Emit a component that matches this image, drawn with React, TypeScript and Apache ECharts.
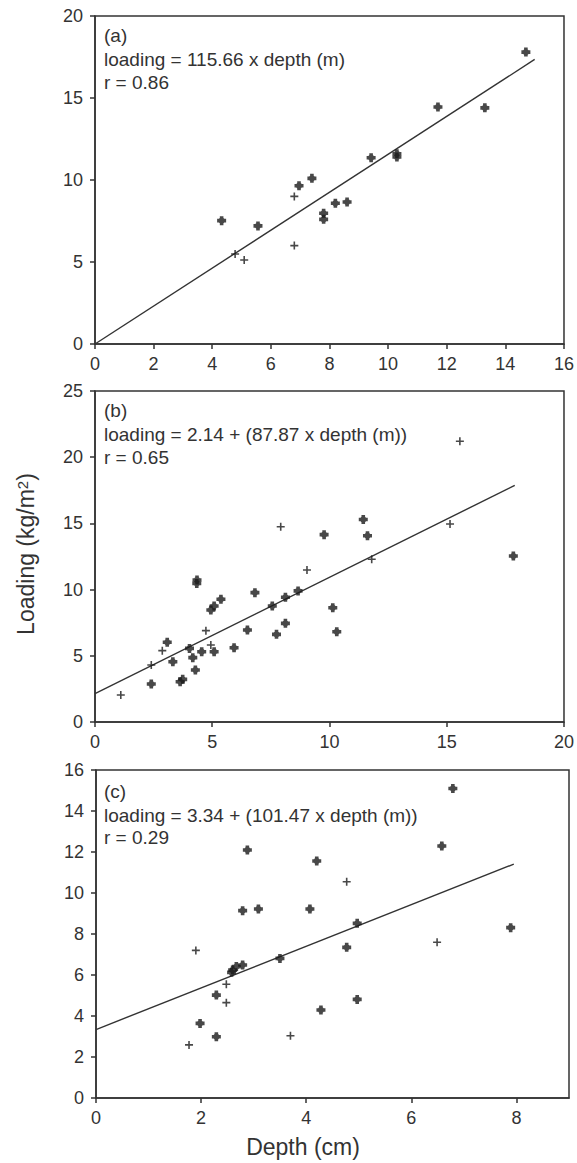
import React, { useEffect, useRef } from "react";
import * as echarts from "echarts";

// ---- texts ----
const panelLabels = ["(a)", "(b)", "(c)"];
const equations = [
  "loading = 115.66 x depth (m)",
  "loading = 2.14 + (87.87 x depth (m))",
  "loading = 3.34 + (101.47 x depth (m))",
];
const rValues = ["r = 0.86", "r = 0.65", "r = 0.29"];
const xTitle = "Depth (cm)";

// ---- panel (a) ----
const aDots = [
  [14.7, 17.8], [11.7, 14.45], [13.3, 14.4], [9.42, 11.36], [10.3, 11.6], [10.3, 11.4],
  [6.96, 9.65], [7.4, 10.1], [4.32, 7.52], [5.56, 7.2], [7.8, 7.97], [7.8, 7.6],
  [8.2, 8.58], [8.6, 8.66],
];
const aCrosses = [[6.8, 9.0], [4.78, 5.49], [5.09, 5.12], [6.8, 6.0]];
const aFit = [[0, 0], [15, 17.35]];

// ---- panel (b) ----
const bDots = [
  [17.84, 12.54], [11.44, 15.3], [11.62, 14.07], [9.77, 14.15], [4.35, 10.72], [4.34, 10.47],
  [8.66, 9.9], [5.37, 9.27], [5.08, 8.76], [4.94, 8.46], [6.82, 9.77], [8.12, 9.42],
  [7.56, 8.76], [10.14, 8.63], [10.31, 6.82], [8.12, 7.45], [7.74, 6.62], [6.5, 6.95],
  [5.93, 5.61], [5.08, 5.31], [4.55, 5.31], [4.03, 5.56], [4.17, 4.86], [4.28, 3.93],
  [3.08, 6.02], [3.32, 4.55], [2.4, 2.87], [3.74, 3.22], [3.63, 3.04],
];
const bCrosses = [
  [15.56, 21.2], [15.14, 14.95], [11.8, 12.29], [7.92, 14.75], [9.04, 11.48], [4.73, 6.9],
  [2.87, 5.39], [2.4, 4.3], [1.1, 2.04], [4.94, 5.82],
];
const bFit = [[0, 2.14], [17.9, 17.87]];

// ---- panel (c) ----
const cDots = [
  [6.79, 15.1], [6.58, 12.29], [2.88, 12.1], [4.2, 11.56], [2.79, 9.14], [3.09, 9.22],
  [4.07, 9.22], [4.97, 8.52], [7.89, 8.31], [4.77, 7.35], [3.5, 6.81], [2.79, 6.49],
  [2.67, 6.41], [2.6, 6.24], [2.58, 6.13], [2.29, 5.02], [4.97, 4.81], [4.28, 4.29],
  [1.98, 3.64], [2.29, 2.99],
];
const cCrosses = [[4.77, 10.55], [6.49, 7.6], [1.9, 7.2], [2.48, 5.55], [2.48, 4.65], [3.7, 3.04], [1.77, 2.59]];
const cFit = [[0, 3.34], [7.95, 11.41]];

// ---- axes extents ----
const xAxesCfg = [
  { min: 0, max: 16, interval: 2 },
  { min: 0, max: 20, interval: 5 },
  { min: 0, max: 9, interval: 2 },
];
const yAxesCfg = [
  { min: 0, max: 20, interval: 5 },
  { min: 0, max: 25, interval: 5 },
  { min: 0, max: 16, interval: 2 },
];

const FONT = "'Liberation Sans', Arial, Helvetica, sans-serif";
const INK = "#333333";
const DOT = "path://M3,0 H7 V2 L8,3 H10 V7 H8 L7,8 V10 H3 V8 L2,7 H0 V3 H2 L3,2 Z";
const CROSS = "path://M4,0 H6 V4 H10 V6 H6 V10 H4 V6 H0 V4 H4 Z";

const grids = [
  { left: 95, top: 16, width: 469, height: 328 },
  { left: 95, top: 391, width: 472, height: 331 },
  { left: 96, top: 770, width: 473, height: 328 },
];

export default function App() {
  const ref = useRef<HTMLDivElement>(null);
  useEffect(() => {
    if (!ref.current) return;
    const chart = echarts.init(ref.current, undefined, { renderer: "svg" });
    const axisLine = { show: true, onZero: false, lineStyle: { color: INK, width: 1.5 } };
    const axisTick = { show: true, inside: false, length: 5, lineStyle: { color: INK, width: 1.5 } };
    const dataSets = [
      [aDots, aCrosses, aFit],
      [bDots, bCrosses, bFit],
      [cDots, cCrosses, cFit],
    ];
    const series: any[] = [];
    dataSets.forEach(([dots, crosses, fit], i) => {
      series.push({
        type: "line", xAxisIndex: i, yAxisIndex: i, data: fit, symbol: "none",
        lineStyle: { color: INK, width: 1.4 }, silent: true, z: 1,
      });
      series.push({
        type: "scatter", xAxisIndex: i, yAxisIndex: i, data: dots, symbol: DOT, symbolSize: 9,
        itemStyle: { color: "#1a1a1a" }, z: 3,
      });
      series.push({
        type: "scatter", xAxisIndex: i, yAxisIndex: i, data: crosses, symbol: CROSS, symbolSize: 8,
        itemStyle: { color: "#1a1a1a" }, z: 3,
      });
    });
    const graphic: any[] = [];
    grids.forEach((g, i) => {
      const offs = i === 2 ? [21, 45, 67] : [19, 43, 66];
      [panelLabels[i], equations[i], rValues[i]].forEach((t, k) => {
        graphic.push({
          type: "text", x: 104, y: g.top + offs[k],
          style: { text: t, fontSize: 19, fontFamily: FONT, fill: INK, verticalAlign: "middle", align: "left" },
        });
      });
    });
    graphic.push({
      type: "text", x: 26, y: 554, rotation: Math.PI / 2,
      style: {
        text: "Loading (kg/m{sup|2})", fontSize: 23, fontFamily: FONT, fill: INK,
        align: "center", verticalAlign: "middle",
        rich: { sup: { fontSize: 15, fontFamily: FONT, fill: INK, verticalAlign: "top" } },
      },
    });
    graphic.push({
      type: "text", x: 303, y: 1147,
      style: { text: xTitle, fontSize: 23, fontFamily: FONT, fill: INK, align: "center", verticalAlign: "middle" },
    });
    chart.setOption({
      animation: false,
      backgroundColor: "#ffffff",
      grid: grids.map((g) => ({ ...g, show: true, borderColor: INK, borderWidth: 1.5, backgroundColor: "transparent" })),
      xAxis: xAxesCfg.map((c, i) => ({
        type: "value", gridIndex: i, ...c, axisLine, axisTick, splitLine: { show: false },
        axisLabel: { color: INK, fontSize: 18, fontFamily: FONT, margin: 11, showMaxLabel: i !== 2 },
      })),
      yAxis: yAxesCfg.map((c, i) => ({
        type: "value", gridIndex: i, ...c, axisLine, axisTick, splitLine: { show: false },
        axisLabel: { color: INK, fontSize: 18, fontFamily: FONT, margin: 12 },
      })),
      series,
      graphic,
    });
    return () => chart.dispose();
  }, []);
  return (
    <div
      ref={ref}
      style={{ position: "fixed", left: 0, top: 0, width: 577, height: 1163, background: "#fff" }}
    />
  );
}
